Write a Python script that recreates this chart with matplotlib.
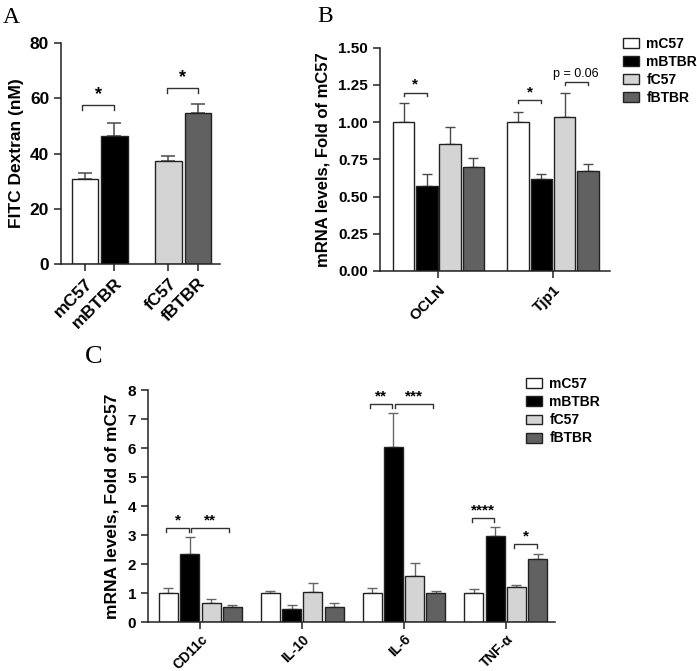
import numpy as np
import matplotlib
matplotlib.use("Agg")
import matplotlib.pyplot as plt

plt.rcParams['font.family'] = ['Liberation Sans', 'DejaVu Sans']
plt.rcParams['font.weight'] = 'bold'

# groups / colours
groups = ["mC57", "mBTBR", "fC57", "fBTBR"]
colors = ["#ffffff", "#000000", "#d4d4d4", "#616161"]

# panel A: FITC dextran (nM)
a_vals = [30.8, 46.5, 37.3, 54.6]
a_top = [33.0, 51.2, 39.0, 57.8]

# panel B: tight junction mRNA
b_genes = ["OCLN", "Tjp1"]
b_vals = [[1.00, 0.57, 0.85, 0.70],
          [1.00, 0.62, 1.035, 0.675]]
b_top = [[1.126, 0.649, 0.965, 0.761],
         [1.068, 0.649, 1.198, 0.721]]

# panel C: cytokine mRNA
c_genes = ["CD11c", "IL-10", "IL-6", "TNF-α"]
c_vals = [[1.00, 2.35, 0.68, 0.53],
          [1.00, 0.45, 1.03, 0.52],
          [1.00, 6.02, 1.60, 1.00],
          [1.00, 2.98, 1.22, 2.18]]
c_top = [[1.17, 2.93, 0.80, 0.585],
         [1.09, 0.585, 1.35, 0.67],
         [1.19, 7.20, 2.04, 1.07],
         [1.16, 3.28, 1.27, 2.35]]

ecol = "#4a4a4a"


def style_ax(ax):
    for s in ["top", "right"]:
        ax.spines[s].set_visible(False)
    for s in ["left", "bottom"]:
        ax.spines[s].set_linewidth(1.1)
        ax.spines[s].set_color("#222222")
    ax.tick_params(direction="out", length=5, width=1.1, color="#222222")


def bracket(ax, x1, x2, y, tick, label, dy, fs=11, weight="bold"):
    ax.plot([x1, x1, x2, x2], [y - tick, y, y, y - tick], color="#333333", lw=1.0, clip_on=False)
    ax.text((x1 + x2) / 2, y + dy, label, ha="center", va="bottom", fontsize=fs, fontweight=weight)


fig = plt.figure(figsize=(6.97, 6.71), dpi=100)

# ---------- A ----------
axA = fig.add_axes([61 / 697, 1 - 264 / 671, 159 / 697, 221 / 671])
xa = np.array([0, 1, 2.83, 3.83])
axA.bar(xa, a_vals, width=0.9, color=colors, edgecolor="#222222", linewidth=1.0, zorder=2)
axA.errorbar(xa, a_vals, yerr=[np.zeros(4), np.array(a_top) - np.array(a_vals)],
             fmt="none", ecolor=ecol, elinewidth=1.1, capsize=5, capthick=1.1, zorder=1)
axA.set_xlim(-0.81, 4.58)
axA.set_ylim(0, 80)
axA.set_yticks([0, 20, 40, 60, 80])
axA.set_xticks(xa)
axA.set_xticklabels(groups, rotation=45, ha="right", rotation_mode="anchor")
axA.tick_params(axis="both", labelsize=12.5)
axA.set_ylabel("FITC Dextran (nM)", fontsize=12.5, fontweight="bold")
style_ax(axA)
bracket(axA, xa[0] - 0.1, xa[1], 57.5, 1.7, "*", 0.6, fs=13)
bracket(axA, xa[2] - 0.05, xa[3], 63.7, 1.7, "*", 0.6, fs=13)
fig.text(3 / 697, 1 - 23 / 671, "A", fontsize=17, family="Liberation Serif", fontweight="normal")

# ---------- B ----------
axB = fig.add_axes([380 / 697, 1 - 271 / 671, 230 / 697, 223.3 / 671])
gpos_b = np.array([0, 4.92])
offs = np.array([-1.5, -0.5, 0.5, 1.5])
for k in range(4):
    xs = gpos_b + offs[k]
    v = np.array([b_vals[g][k] for g in range(2)])
    t = np.array([b_top[g][k] for g in range(2)])
    axB.bar(xs, v, width=0.92, color=colors[k], edgecolor="#222222", linewidth=1.0,
            label=groups[k], zorder=2)
    axB.errorbar(xs, v, yerr=[np.zeros(2), t - v], fmt="none", ecolor=ecol,
                 elinewidth=1.0, capsize=3.5, capthick=1.0, zorder=1)
axB.set_xlim(-2.51, 7.37)
axB.set_ylim(0, 1.5)
axB.set_yticks([0, 0.25, 0.5, 0.75, 1.0, 1.25, 1.5])
axB.set_yticklabels(["%.2f" % v for v in [0, 0.25, 0.5, 0.75, 1.0, 1.25, 1.5]])
axB.set_xticks(gpos_b)
axB.set_xticklabels(b_genes, rotation=45, ha="right", rotation_mode="anchor")
axB.tick_params(axis="both", labelsize=11)
axB.set_ylabel("mRNA levels, Fold of mC57", fontsize=12, fontweight="bold", labelpad=6)
style_ax(axB)
bracket(axB, gpos_b[0] - 1.5, gpos_b[0] - 0.48, 1.198, 0.022, "*", 0.005)
bracket(axB, gpos_b[1] - 1.5, gpos_b[1] - 0.5, 1.148, 0.022, "*", 0.005)
bracket(axB, gpos_b[1] + 0.5, gpos_b[1] + 1.5, 1.27, 0.022, "p = 0.06", 0.01, fs=9, weight="normal")
axB.legend(loc="upper left", bbox_to_anchor=(622.7 / 697, 1 - 37 / 671), bbox_transform=fig.transFigure,
           frameon=False, fontsize=10, handlelength=1.2, handleheight=0.7, labelspacing=0.28,
           handletextpad=0.5, borderpad=0, borderaxespad=0)
fig.text(317 / 697, 1 - 22 / 671, "B", fontsize=17, family="Liberation Serif", fontweight="normal")

# ---------- C ----------
axC = fig.add_axes([148 / 697, 1 - 622.3 / 671, 407 / 697, 232.3 / 671])
gpos_c = np.array([0, 4.78, 9.56, 14.34])
for k in range(4):
    xs = gpos_c + offs[k]
    v = np.array([c_vals[g][k] for g in range(4)])
    t = np.array([c_top[g][k] for g in range(4)])
    axC.bar(xs, v, width=0.89, color=colors[k], edgecolor="#222222", linewidth=1.0,
            label=groups[k], zorder=2)
    axC.errorbar(xs, v, yerr=[np.zeros(4), t - v], fmt="none", ecolor="#666666",
                 elinewidth=1.0, capsize=3.5, capthick=1.0, zorder=1)
axC.set_xlim(-2.46, 16.65)
axC.set_ylim(0, 8)
axC.set_yticks(range(9))
axC.set_xticks(gpos_c)
axC.set_xticklabels(c_genes, rotation=45, ha="right", rotation_mode="anchor")
axC.tick_params(axis="both", labelsize=11)
axC.tick_params(axis="x", labelsize=10, pad=2)
axC.set_ylabel("mRNA levels, Fold of mC57", fontsize=12.5, fontweight="bold", labelpad=6)
style_ax(axC)
g = gpos_c
bracket(axC, g[0] - 1.6, g[0] - 0.55, 3.24, 0.14, "*", 0.03)
bracket(axC, g[0] - 0.42, g[0] + 1.35, 3.24, 0.14, "**", 0.03)
bracket(axC, g[2] - 1.6, g[2] - 0.55, 7.52, 0.14, "**", 0.03)
bracket(axC, g[2] - 0.42, g[2] + 1.35, 7.52, 0.14, "***", 0.03)
bracket(axC, g[3] - 1.6, g[3] - 0.55, 3.58, 0.14, "****", 0.03)
bracket(axC, g[3] + 0.4, g[3] + 1.45, 2.69, 0.14, "*", 0.03)
axC.legend(loc="upper left", bbox_to_anchor=(525.7 / 697, 1 - 377 / 671), bbox_transform=fig.transFigure,
           frameon=False, fontsize=10, handlelength=1.2, handleheight=0.7, labelspacing=0.3,
           handletextpad=0.5, borderpad=0, borderaxespad=0)
fig.text(85 / 697, 1 - 363 / 671, "C", fontsize=19, family="Liberation Serif", fontweight="normal")

fig.savefig("out.png", dpi=100)
